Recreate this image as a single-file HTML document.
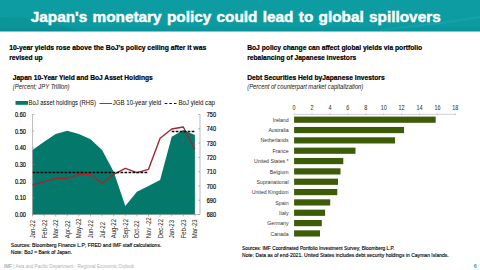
<!DOCTYPE html>
<html><head><meta charset="utf-8"><style>
html,body{margin:0;padding:0;background:#fff;width:480px;height:270px;overflow:hidden}
svg{display:block}
</style></head><body>
<svg width="480" height="270" viewBox="0 0 480 270">
<defs><linearGradient id="hg" x1="0" y1="0" x2="0" y2="1"><stop offset="0" stop-color="#0c9da2"/><stop offset="0.8" stop-color="#0c9ba1"/><stop offset="1" stop-color="#089399"/></linearGradient></defs><rect x="0" y="0" width="480" height="31.5" fill="url(#hg)"/><path d="M0,17 C25,16 55,22 80,31.5 L0,31.5 Z" fill="#000" opacity="0.035"/><path d="M380,30 C420,26 450,22 480,17" stroke="#6cc" stroke-width="2.5" fill="none" opacity="0.12"/>
<text transform="translate(30.8,22.2) scale(1.081,1)" font-family="Liberation Sans" font-weight="bold" font-size="14.2" word-spacing="1.0" stroke="#fff" stroke-width="0.4" fill="#ffffff">Japan's monetary policy could lead to global spillovers</text>
<text x="9.2" y="49.9" font-family="Liberation Sans" font-size="7.5" font-weight="bold" textLength="197" lengthAdjust="spacingAndGlyphs" fill="#000" stroke="#000" stroke-width="0.22">10-year yields rose above the BoJ’s policy ceiling after it was</text>
<text x="9.2" y="60.3" font-family="Liberation Sans" font-size="7.5" font-weight="bold" textLength="33.4" lengthAdjust="spacingAndGlyphs" fill="#000" stroke="#000" stroke-width="0.22">revised up</text>
<text x="247.2" y="49.9" font-family="Liberation Sans" font-size="7.5" font-weight="bold" textLength="175" lengthAdjust="spacingAndGlyphs" fill="#000" stroke="#000" stroke-width="0.22">BoJ policy change can affect global yields via portfolio</text>
<text x="247.2" y="60.3" font-family="Liberation Sans" font-size="7.5" font-weight="bold" textLength="109" lengthAdjust="spacingAndGlyphs" fill="#000" stroke="#000" stroke-width="0.22">rebalancing of Japanese investors</text>
<text x="12.7" y="79.7" font-family="Liberation Sans" font-size="7.5" font-weight="bold" textLength="140" lengthAdjust="spacingAndGlyphs" fill="#000" stroke="#000" stroke-width="0.22">Japan 10-Year Yield and BoJ Asset Holdings</text>
<text x="247.2" y="79.7" font-family="Liberation Sans" font-size="7.5" font-weight="bold" textLength="137.5" lengthAdjust="spacingAndGlyphs" fill="#000" stroke="#000" stroke-width="0.22">Debt Securities Held byJapanese Investors</text>
<text x="12.8" y="88.9" font-family="Liberation Sans" font-size="6.5" font-style="italic" textLength="56.8" lengthAdjust="spacingAndGlyphs" fill="#1a1a1a" stroke="#1a1a1a" stroke-width="0.03">(Percent; JPY Trillion)</text>
<text x="247.3" y="88.9" font-family="Liberation Sans" font-size="6.5" font-style="italic" textLength="116" lengthAdjust="spacingAndGlyphs" fill="#1a1a1a" stroke="#1a1a1a" stroke-width="0.03">(Percent of counterpart market  capitalization)</text>
<rect x="15.5" y="101" width="12.5" height="3.8" fill="#04796b"/>
<text x="28.5" y="105.1" font-family="Liberation Sans" font-size="6.5" textLength="67.5" lengthAdjust="spacingAndGlyphs" fill="#111" stroke="#111" stroke-width="0.04">BoJ asset holdings (RHS)</text>
<line x1="99.5" y1="103.5" x2="112" y2="103.5" stroke="#c0272d" stroke-width="1"/>
<text x="112.7" y="105.1" font-family="Liberation Sans" font-size="6.5" textLength="48.5" lengthAdjust="spacingAndGlyphs" fill="#111" stroke="#111" stroke-width="0.04">JGB 10-year yield</text>
<line x1="164.7" y1="103.5" x2="176.5" y2="103.5" stroke="#111" stroke-width="1.0" stroke-dasharray="2.6,2"/>
<text x="178.5" y="105.1" font-family="Liberation Sans" font-size="6.5" textLength="36.5" lengthAdjust="spacingAndGlyphs" fill="#111" stroke="#111" stroke-width="0.04">BoJ yield cap</text>
<path d="M32.50,214.6 L32.50,150.00 44.10,141.70 55.70,134.00 67.30,130.70 78.90,134.00 90.50,139.30 102.10,150.00 113.70,171.70 125.30,206.00 136.90,191.70 148.50,186.00 160.10,180.00 171.70,136.70 183.30,130.00 194.90,135.00 L194.90,214.6 Z" fill="#04796b"/>
<polyline points="32.50,185.00 44.10,181.70 55.70,178.30 67.30,178.30 78.90,174.40 90.50,174.50 102.10,183.20 113.70,174.30 125.30,168.30 136.90,172.70 148.50,169.30 160.10,138.30 171.70,129.00 183.30,127.00 194.90,149.30" fill="none" stroke="#a0282e" stroke-width="1.4" stroke-linejoin="round"/>
<line x1="32.5" y1="172.5" x2="148.5" y2="172.5" stroke="#0a0a0a" stroke-width="1.4" stroke-dasharray="2.7,1.3"/>
<line x1="171.7" y1="131.5" x2="195" y2="131.5" stroke="#0a0a0a" stroke-width="1.4" stroke-dasharray="2.7,1.3"/>
<line x1="32.6" y1="114.1" x2="32.6" y2="214.6" stroke="#8a8a8a" stroke-width="0.6"/>
<line x1="200" y1="114.1" x2="200" y2="214.6" stroke="#8a8a8a" stroke-width="0.6"/>
<line x1="32.6" y1="214.6" x2="200" y2="214.6" stroke="#8a8a8a" stroke-width="0.6"/>
<line x1="32.6" y1="114.40" x2="34.4" y2="114.40" stroke="#8a8a8a" stroke-width="0.6"/>
<text transform="translate(25.8,116.95) scale(0.77,1)" font-family="Liberation Sans" font-size="7.2" text-anchor="end" fill="#000" stroke="#000" stroke-width="0.2">0.60</text>
<line x1="32.6" y1="131.10" x2="34.4" y2="131.10" stroke="#8a8a8a" stroke-width="0.6"/>
<text transform="translate(25.8,133.65) scale(0.77,1)" font-family="Liberation Sans" font-size="7.2" text-anchor="end" fill="#000" stroke="#000" stroke-width="0.2">0.50</text>
<line x1="32.6" y1="147.80" x2="34.4" y2="147.80" stroke="#8a8a8a" stroke-width="0.6"/>
<text transform="translate(25.8,150.35) scale(0.77,1)" font-family="Liberation Sans" font-size="7.2" text-anchor="end" fill="#000" stroke="#000" stroke-width="0.2">0.40</text>
<line x1="32.6" y1="164.50" x2="34.4" y2="164.50" stroke="#8a8a8a" stroke-width="0.6"/>
<text transform="translate(25.8,167.05) scale(0.77,1)" font-family="Liberation Sans" font-size="7.2" text-anchor="end" fill="#000" stroke="#000" stroke-width="0.2">0.30</text>
<line x1="32.6" y1="181.20" x2="34.4" y2="181.20" stroke="#8a8a8a" stroke-width="0.6"/>
<text transform="translate(25.8,183.75) scale(0.77,1)" font-family="Liberation Sans" font-size="7.2" text-anchor="end" fill="#000" stroke="#000" stroke-width="0.2">0.20</text>
<line x1="32.6" y1="197.90" x2="34.4" y2="197.90" stroke="#8a8a8a" stroke-width="0.6"/>
<text transform="translate(25.8,200.45) scale(0.77,1)" font-family="Liberation Sans" font-size="7.2" text-anchor="end" fill="#000" stroke="#000" stroke-width="0.2">0.10</text>
<line x1="32.6" y1="214.60" x2="34.4" y2="214.60" stroke="#8a8a8a" stroke-width="0.6"/>
<text transform="translate(25.8,217.15) scale(0.77,1)" font-family="Liberation Sans" font-size="7.2" text-anchor="end" fill="#000" stroke="#000" stroke-width="0.2">0.00</text>
<line x1="198.2" y1="114.40" x2="200" y2="114.40" stroke="#8a8a8a" stroke-width="0.6"/>
<text transform="translate(206.8,116.95) scale(0.77,1)" font-family="Liberation Sans" font-size="7.2" fill="#000" stroke="#000" stroke-width="0.2">750</text>
<line x1="198.2" y1="128.71" x2="200" y2="128.71" stroke="#8a8a8a" stroke-width="0.6"/>
<text transform="translate(206.8,131.26) scale(0.77,1)" font-family="Liberation Sans" font-size="7.2" fill="#000" stroke="#000" stroke-width="0.2">740</text>
<line x1="198.2" y1="143.03" x2="200" y2="143.03" stroke="#8a8a8a" stroke-width="0.6"/>
<text transform="translate(206.8,145.58) scale(0.77,1)" font-family="Liberation Sans" font-size="7.2" fill="#000" stroke="#000" stroke-width="0.2">730</text>
<line x1="198.2" y1="157.34" x2="200" y2="157.34" stroke="#8a8a8a" stroke-width="0.6"/>
<text transform="translate(206.8,159.89) scale(0.77,1)" font-family="Liberation Sans" font-size="7.2" fill="#000" stroke="#000" stroke-width="0.2">720</text>
<line x1="198.2" y1="171.66" x2="200" y2="171.66" stroke="#8a8a8a" stroke-width="0.6"/>
<text transform="translate(206.8,174.21) scale(0.77,1)" font-family="Liberation Sans" font-size="7.2" fill="#000" stroke="#000" stroke-width="0.2">710</text>
<line x1="198.2" y1="185.97" x2="200" y2="185.97" stroke="#8a8a8a" stroke-width="0.6"/>
<text transform="translate(206.8,188.52) scale(0.77,1)" font-family="Liberation Sans" font-size="7.2" fill="#000" stroke="#000" stroke-width="0.2">700</text>
<line x1="198.2" y1="200.28" x2="200" y2="200.28" stroke="#8a8a8a" stroke-width="0.6"/>
<text transform="translate(206.8,202.83) scale(0.77,1)" font-family="Liberation Sans" font-size="7.2" fill="#000" stroke="#000" stroke-width="0.2">690</text>
<line x1="198.2" y1="214.60" x2="200" y2="214.60" stroke="#8a8a8a" stroke-width="0.6"/>
<text transform="translate(206.8,217.15) scale(0.77,1)" font-family="Liberation Sans" font-size="7.2" fill="#000" stroke="#000" stroke-width="0.2">680</text>
<line x1="32.50" y1="214.6" x2="32.50" y2="216.4" stroke="#8a8a8a" stroke-width="0.6"/>
<text transform="translate(34.95,238.3) rotate(-90) scale(0.88,1)" font-family="Liberation Sans" font-size="6.8" fill="#222">Jan-22</text>
<line x1="44.10" y1="214.6" x2="44.10" y2="216.4" stroke="#8a8a8a" stroke-width="0.6"/>
<text transform="translate(46.55,238.3) rotate(-90) scale(0.88,1)" font-family="Liberation Sans" font-size="6.8" fill="#222">Feb-22</text>
<line x1="55.70" y1="214.6" x2="55.70" y2="216.4" stroke="#8a8a8a" stroke-width="0.6"/>
<text transform="translate(58.15,238.3) rotate(-90) scale(0.88,1)" font-family="Liberation Sans" font-size="6.8" fill="#222">Mar-22</text>
<line x1="67.30" y1="214.6" x2="67.30" y2="216.4" stroke="#8a8a8a" stroke-width="0.6"/>
<text transform="translate(69.75,238.3) rotate(-90) scale(0.88,1)" font-family="Liberation Sans" font-size="6.8" fill="#222">Apr-22</text>
<line x1="78.90" y1="214.6" x2="78.90" y2="216.4" stroke="#8a8a8a" stroke-width="0.6"/>
<text transform="translate(81.35,238.3) rotate(-90) scale(0.88,1)" font-family="Liberation Sans" font-size="6.8" fill="#222">May-22</text>
<line x1="90.50" y1="214.6" x2="90.50" y2="216.4" stroke="#8a8a8a" stroke-width="0.6"/>
<text transform="translate(92.95,238.3) rotate(-90) scale(0.88,1)" font-family="Liberation Sans" font-size="6.8" fill="#222">Jun-22</text>
<line x1="102.10" y1="214.6" x2="102.10" y2="216.4" stroke="#8a8a8a" stroke-width="0.6"/>
<text transform="translate(104.55,238.3) rotate(-90) scale(0.88,1)" font-family="Liberation Sans" font-size="6.8" fill="#222">Jul-22</text>
<line x1="113.70" y1="214.6" x2="113.70" y2="216.4" stroke="#8a8a8a" stroke-width="0.6"/>
<text transform="translate(116.15,238.3) rotate(-90) scale(0.88,1)" font-family="Liberation Sans" font-size="6.8" fill="#222">Aug-22</text>
<line x1="125.30" y1="214.6" x2="125.30" y2="216.4" stroke="#8a8a8a" stroke-width="0.6"/>
<text transform="translate(127.75,238.3) rotate(-90) scale(0.88,1)" font-family="Liberation Sans" font-size="6.8" fill="#222">Sep-22</text>
<line x1="136.90" y1="214.6" x2="136.90" y2="216.4" stroke="#8a8a8a" stroke-width="0.6"/>
<text transform="translate(139.35,238.3) rotate(-90) scale(0.88,1)" font-family="Liberation Sans" font-size="6.8" fill="#222">Oct-22</text>
<line x1="148.50" y1="214.6" x2="148.50" y2="216.4" stroke="#8a8a8a" stroke-width="0.6"/>
<text transform="translate(150.95,238.3) rotate(-90) scale(0.88,1)" font-family="Liberation Sans" font-size="6.8" fill="#222">Nov -22</text>
<line x1="160.10" y1="214.6" x2="160.10" y2="216.4" stroke="#8a8a8a" stroke-width="0.6"/>
<text transform="translate(162.55,238.3) rotate(-90) scale(0.88,1)" font-family="Liberation Sans" font-size="6.8" fill="#222">Dec-22</text>
<line x1="171.70" y1="214.6" x2="171.70" y2="216.4" stroke="#8a8a8a" stroke-width="0.6"/>
<text transform="translate(174.15,238.3) rotate(-90) scale(0.88,1)" font-family="Liberation Sans" font-size="6.8" fill="#222">Jan-23</text>
<line x1="183.30" y1="214.6" x2="183.30" y2="216.4" stroke="#8a8a8a" stroke-width="0.6"/>
<text transform="translate(185.75,238.3) rotate(-90) scale(0.88,1)" font-family="Liberation Sans" font-size="6.8" fill="#222">Feb-23</text>
<line x1="194.90" y1="214.6" x2="194.90" y2="216.4" stroke="#8a8a8a" stroke-width="0.6"/>
<text transform="translate(197.35,238.3) rotate(-90) scale(0.88,1)" font-family="Liberation Sans" font-size="6.8" fill="#222">Mar-23</text>
<line x1="294.1" y1="114.3" x2="455.4" y2="114.3" stroke="#b0b0b0" stroke-width="0.6"/>
<line x1="294.10" y1="113.4" x2="294.10" y2="115.2" stroke="#b0b0b0" stroke-width="0.6"/>
<text transform="translate(294.10,110.4) scale(0.8,1)" font-family="Liberation Sans" font-size="6.8" text-anchor="middle" fill="#333" stroke="#333" stroke-width="0.05">0</text>
<line x1="312.02" y1="113.4" x2="312.02" y2="115.2" stroke="#b0b0b0" stroke-width="0.6"/>
<text transform="translate(312.02,110.4) scale(0.8,1)" font-family="Liberation Sans" font-size="6.8" text-anchor="middle" fill="#333" stroke="#333" stroke-width="0.05">2</text>
<line x1="329.94" y1="113.4" x2="329.94" y2="115.2" stroke="#b0b0b0" stroke-width="0.6"/>
<text transform="translate(329.94,110.4) scale(0.8,1)" font-family="Liberation Sans" font-size="6.8" text-anchor="middle" fill="#333" stroke="#333" stroke-width="0.05">4</text>
<line x1="347.86" y1="113.4" x2="347.86" y2="115.2" stroke="#b0b0b0" stroke-width="0.6"/>
<text transform="translate(347.86,110.4) scale(0.8,1)" font-family="Liberation Sans" font-size="6.8" text-anchor="middle" fill="#333" stroke="#333" stroke-width="0.05">6</text>
<line x1="365.78" y1="113.4" x2="365.78" y2="115.2" stroke="#b0b0b0" stroke-width="0.6"/>
<text transform="translate(365.78,110.4) scale(0.8,1)" font-family="Liberation Sans" font-size="6.8" text-anchor="middle" fill="#333" stroke="#333" stroke-width="0.05">8</text>
<line x1="383.70" y1="113.4" x2="383.70" y2="115.2" stroke="#b0b0b0" stroke-width="0.6"/>
<text transform="translate(383.70,110.4) scale(0.8,1)" font-family="Liberation Sans" font-size="6.8" text-anchor="middle" fill="#333" stroke="#333" stroke-width="0.05">10</text>
<line x1="401.62" y1="113.4" x2="401.62" y2="115.2" stroke="#b0b0b0" stroke-width="0.6"/>
<text transform="translate(401.62,110.4) scale(0.8,1)" font-family="Liberation Sans" font-size="6.8" text-anchor="middle" fill="#333" stroke="#333" stroke-width="0.05">12</text>
<line x1="419.54" y1="113.4" x2="419.54" y2="115.2" stroke="#b0b0b0" stroke-width="0.6"/>
<text transform="translate(419.54,110.4) scale(0.8,1)" font-family="Liberation Sans" font-size="6.8" text-anchor="middle" fill="#333" stroke="#333" stroke-width="0.05">14</text>
<line x1="437.46" y1="113.4" x2="437.46" y2="115.2" stroke="#b0b0b0" stroke-width="0.6"/>
<text transform="translate(437.46,110.4) scale(0.8,1)" font-family="Liberation Sans" font-size="6.8" text-anchor="middle" fill="#333" stroke="#333" stroke-width="0.05">16</text>
<line x1="455.38" y1="113.4" x2="455.38" y2="115.2" stroke="#b0b0b0" stroke-width="0.6"/>
<text transform="translate(455.38,110.4) scale(0.8,1)" font-family="Liberation Sans" font-size="6.8" text-anchor="middle" fill="#333" stroke="#333" stroke-width="0.05">18</text>
<rect x="294.1" y="116.60" width="141.57" height="6.2" fill="#3d5c07"/>
<text x="288.6" y="121.80" font-family="Liberation Sans" font-size="6.0" text-anchor="end" textLength="15.88" lengthAdjust="spacingAndGlyphs" fill="#333">Ireland</text>
<rect x="294.1" y="126.94" width="109.94" height="6.2" fill="#3d5c07"/>
<text x="288.6" y="132.14" font-family="Liberation Sans" font-size="6.0" text-anchor="end" textLength="20.19" lengthAdjust="spacingAndGlyphs" fill="#333">Australia</text>
<rect x="294.1" y="137.28" width="100.89" height="6.2" fill="#3d5c07"/>
<text x="288.6" y="142.48" font-family="Liberation Sans" font-size="6.0" text-anchor="end" textLength="27.98" lengthAdjust="spacingAndGlyphs" fill="#333">Netherlands</text>
<rect x="294.1" y="147.62" width="61.38" height="6.2" fill="#3d5c07"/>
<text x="288.6" y="152.82" font-family="Liberation Sans" font-size="6.0" text-anchor="end" textLength="16.16" lengthAdjust="spacingAndGlyphs" fill="#333">France</text>
<rect x="294.1" y="157.96" width="49.19" height="6.2" fill="#3d5c07"/>
<text x="288.6" y="163.16" font-family="Liberation Sans" font-size="6.0" text-anchor="end" textLength="34.61" lengthAdjust="spacingAndGlyphs" fill="#333">United States *</text>
<rect x="294.1" y="168.30" width="46.41" height="6.2" fill="#3d5c07"/>
<text x="288.6" y="173.50" font-family="Liberation Sans" font-size="6.0" text-anchor="end" textLength="18.75" lengthAdjust="spacingAndGlyphs" fill="#333">Belgium</text>
<rect x="294.1" y="178.64" width="43.90" height="6.2" fill="#3d5c07"/>
<text x="288.6" y="183.84" font-family="Liberation Sans" font-size="6.0" text-anchor="end" textLength="32.02" lengthAdjust="spacingAndGlyphs" fill="#333">Supranational</text>
<rect x="294.1" y="188.98" width="43.19" height="6.2" fill="#3d5c07"/>
<text x="288.6" y="194.18" font-family="Liberation Sans" font-size="6.0" text-anchor="end" textLength="36.92" lengthAdjust="spacingAndGlyphs" fill="#333">United Kingdom</text>
<rect x="294.1" y="199.32" width="36.11" height="6.2" fill="#3d5c07"/>
<text x="288.6" y="204.52" font-family="Liberation Sans" font-size="6.0" text-anchor="end" textLength="13.28" lengthAdjust="spacingAndGlyphs" fill="#333">Spain</text>
<rect x="294.1" y="209.66" width="31.00" height="6.2" fill="#3d5c07"/>
<text x="288.6" y="214.86" font-family="Liberation Sans" font-size="6.0" text-anchor="end" textLength="9.52" lengthAdjust="spacingAndGlyphs" fill="#333">Italy</text>
<rect x="294.1" y="220.00" width="27.69" height="6.2" fill="#3d5c07"/>
<text x="288.6" y="225.20" font-family="Liberation Sans" font-size="6.0" text-anchor="end" textLength="21.34" lengthAdjust="spacingAndGlyphs" fill="#333">Germany</text>
<rect x="294.1" y="230.34" width="25.89" height="6.2" fill="#3d5c07"/>
<text x="288.6" y="235.54" font-family="Liberation Sans" font-size="6.0" text-anchor="end" textLength="18.17" lengthAdjust="spacingAndGlyphs" fill="#333">Canada</text>
<text x="10.8" y="247" font-family="Liberation Sans" font-size="5.05" fill="#000" stroke="#000" stroke-width="0.12">Sources: Bloomberg Finance L.P; FRED and IMF staff calculations.</text>
<text x="10.8" y="254" font-family="Liberation Sans" font-size="5.0" fill="#000" stroke="#000" stroke-width="0.12">Note: BoJ = Bank of Japan.</text>
<text x="242" y="250" font-family="Liberation Sans" font-size="4.85" fill="#000" stroke="#000" stroke-width="0.12">Sources: IMF Coordinated Portfolio Investment Survey; Bloomberg L.P.</text>
<text x="242" y="257.2" font-family="Liberation Sans" font-size="5.05" fill="#000" stroke="#000" stroke-width="0.12">Note: Data as of end-2021. United States includes debt security holdings in Cayman Islands.</text>
<text x="4" y="267.5" font-family="Liberation Sans" font-size="4.6" fill="#b0b0b0"><tspan font-weight="bold">IMF</tspan> | Asia and Pacific Department - Regional Economic Outlook</text>
<text x="473.8" y="268" font-family="Liberation Sans" font-size="5.2" font-weight="bold" fill="#22a0a8">6</text>
</svg>
</body></html>
